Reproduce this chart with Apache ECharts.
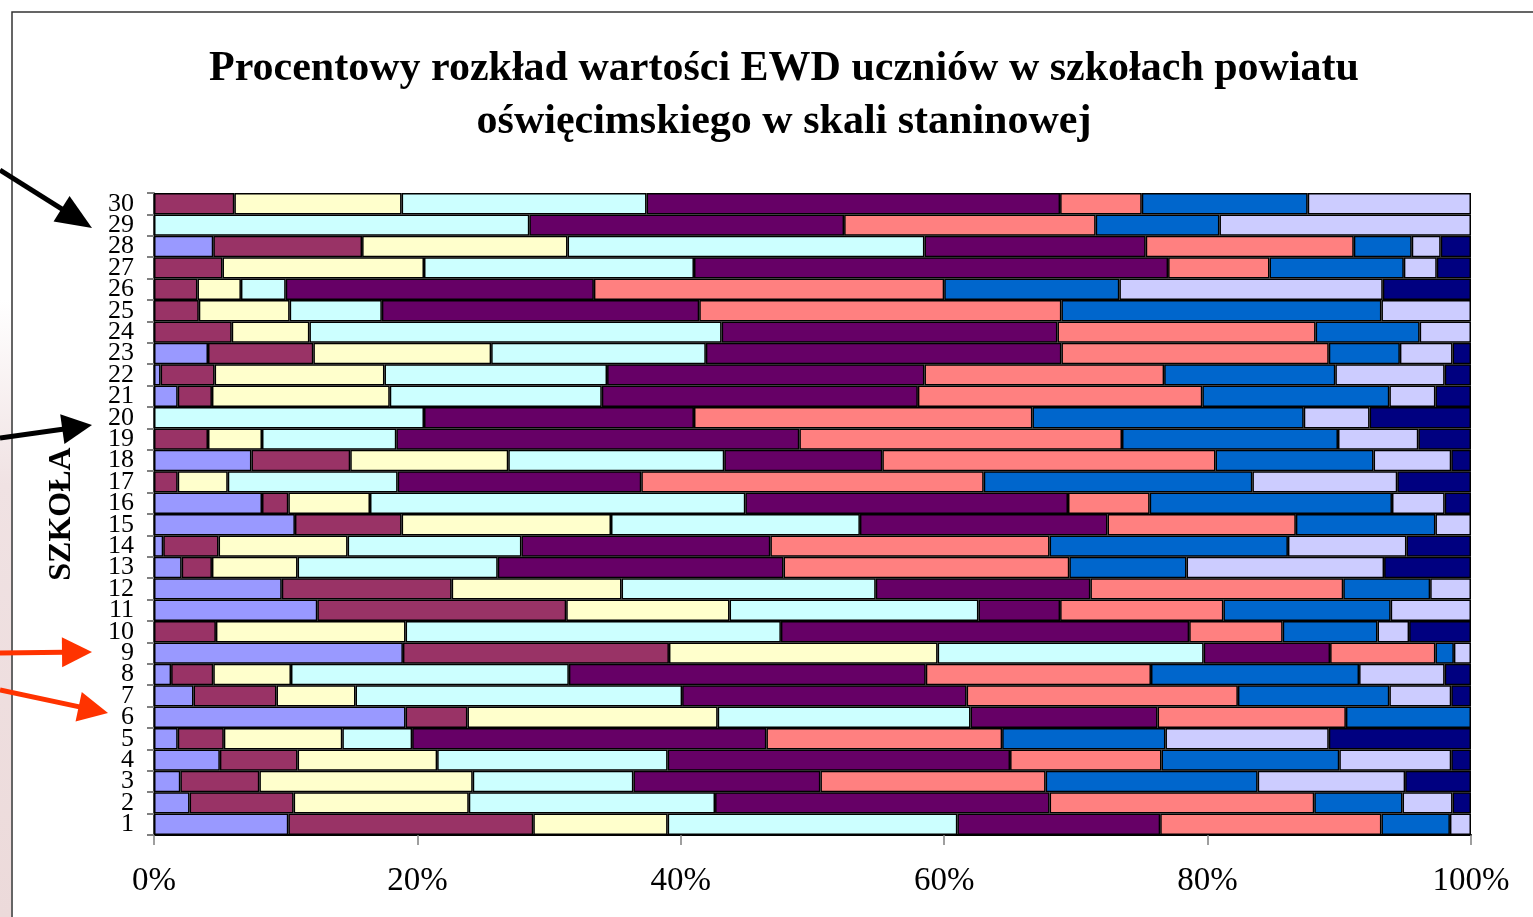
<!DOCTYPE html>
<html>
<head>
<meta charset="utf-8">
<script src="https://cdn.jsdelivr.net/npm/echarts@6/dist/echarts.min.js"></script>
<style>
html,body{margin:0;padding:0;background:#fff;}
#chart{width:1533px;height:917px;}
</style>
</head>
<body>
<div id="chart"></div>
<script>
// Schools (category axis, bottom to top)
const schools = ['1','2','3','4','5','6','7','8','9','10','11','12','13','14','15','16','17','18','19','20','21','22','23','24','25','26','27','28','29','30'];

// Percent of pupils in each stanine (1..9) per school 1..30
const stanine1 = [10.2,2.7,2.0,5.0,1.8,19.1,3.0,1.3,18.9,0,12.4,9.7,2.1,0.7,10.7,8.2,0,7.4,0,0,1.8,0.5,4.1,0,0,0,0,4.5,0,0];
const stanine2 = [18.6,7.9,6.0,5.9,3.5,4.7,6.3,3.2,20.2,4.7,18.9,12.9,2.3,4.2,8.1,2.0,1.8,7.5,4.1,0,2.6,4.1,8.0,5.9,3.4,3.3,5.2,11.3,0,6.1];
const stanine3 = [10.2,13.3,16.2,10.6,9.0,19.0,6.0,5.9,20.4,14.4,12.4,12.9,6.5,9.8,15.9,6.2,3.8,12.0,4.1,0,13.5,12.9,13.5,5.9,6.9,3.3,15.3,15.6,0,12.7];
const stanine4 = [22.0,18.7,12.2,17.5,5.3,19.2,24.8,21.1,20.2,28.5,18.9,19.3,15.2,13.2,18.9,28.5,12.9,16.4,10.2,20.5,16.1,16.9,16.3,31.3,7.0,3.4,20.5,27.1,28.5,18.6];
const stanine5 = [15.4,25.4,14.2,26.0,26.9,14.2,21.6,27.1,9.6,31.0,6.2,16.3,21.7,18.9,18.8,24.5,18.5,12.0,30.6,20.5,24.0,24.1,27.0,25.5,24.1,23.4,36.0,16.8,23.9,31.4];
const stanine6 = [16.8,20.1,17.1,11.5,17.9,14.3,20.6,17.1,8.0,7.1,12.4,19.2,21.7,21.2,14.3,6.2,26.0,25.3,24.5,25.7,21.6,18.2,20.3,19.6,27.5,26.6,7.7,15.8,19.1,6.2];
const stanine7 = [5.2,6.7,16.1,13.5,12.4,9.5,11.5,15.8,1.4,7.2,12.7,6.6,8.9,18.1,10.6,18.4,20.4,12.0,16.4,20.6,14.2,13.0,5.4,7.9,24.3,13.3,10.2,4.4,9.4,12.6];
const stanine8 = [1.6,3.8,11.2,8.5,12.4,0,4.7,6.5,1.3,2.4,6.1,3.1,15.0,9.0,2.7,4.0,11.0,5.9,6.1,5.0,3.5,8.3,4.0,3.9,6.8,20.0,2.5,2.2,19.1,12.4];
const stanine9 = [0,1.4,5.0,1.5,10.8,0,1.5,2.0,0,4.7,0,0,6.6,4.9,0,2.0,5.6,1.5,4.0,7.7,2.7,2.0,1.4,0,0,6.7,2.6,2.3,0,0];

const stanineNames = ['1','2','3','4','5','6','7','8','9'];
const stanineData = [stanine1,stanine2,stanine3,stanine4,stanine5,stanine6,stanine7,stanine8,stanine9];
const stanineColors = ['#9999FF','#993366','#FFFFCC','#CCFFFF','#660066','#FF8080','#0066CC','#CCCCFF','#000080'];

const xTicks = [0,20,40,60,80,100];

const serif = '"Liberation Serif","Times New Roman",serif';

const chart = echarts.init(document.getElementById('chart'), null, {renderer:'canvas'});

// arrow decorations (outside the plot)
function arrow(x0,y0,x1,y1,color,w,headLen,headW){
  const dx=x1-x0, dy=y1-y0, L=Math.sqrt(dx*dx+dy*dy), ux=dx/L, uy=dy/L;
  const bx=x1-ux*headLen, by=y1-uy*headLen;
  const px=-uy, py=ux;
  return [
    {type:'line', shape:{x1:x0,y1:y0,x2:bx+ux*2,y2:by+uy*2}, style:{stroke:color,lineWidth:w}, z:10},
    {type:'polygon', shape:{points:[[x1,y1],[bx+px*headW/2,by+py*headW/2],[bx-px*headW/2,by-py*headW/2]]}, style:{fill:color}, z:10}
  ];
}

const graphics = [
  {type:'rect', shape:{x:0,y:300,width:11,height:617}, style:{fill:new echarts.graphic.LinearGradient(0,0,0,1,[{offset:0,color:'#ffffff'},{offset:0.3,color:'#f0e2e3'},{offset:1,color:'#ecdada'}])}, z:0},
  {type:'rect', shape:{x:12,y:12,width:1560,height:960}, style:{fill:null,stroke:'#333',lineWidth:1.5}, z:1}
].concat(
  arrow(0,170,92,228,'#000',5,36,30),
  arrow(0,438,92,425,'#000',5,30,30),
  arrow(0,653,92,652,'#FF3300',5,30,30),
  arrow(0,690,108,713,'#FF3300',5,30,30)
);

const option = {
  backgroundColor:'#fff',
  animation:false,
  title:{
    text:'Procentowy rozkład wartości EWD uczniów w szkołach powiatu\noświęcimskiego w skali staninowej',
    left:784,
    top:43,
    padding:0,
    textAlign:'center',
    textStyle:{fontFamily:serif,fontWeight:'bold',fontSize:42,lineHeight:53,color:'#000'}
  },
  grid:{left:154,right:62,top:193,bottom:82,containLabel:false},
  xAxis:{
    type:'value',min:0,max:100,interval:20,
    axisLine:{show:true,lineStyle:{color:'#000',width:2}},
    axisTick:{show:true,length:10,lineStyle:{color:'#808080',width:1.5}},
    splitLine:{show:false},
    axisLabel:{formatter:function(v){return xTicks.indexOf(v)>=0? v+'%':'';},fontFamily:serif,fontSize:33,color:'#000',margin:30}
  },
  yAxis:{
    type:'category',data:schools,
    name:'SZKOŁA',nameLocation:'middle',nameRotate:90,nameGap:76,
    nameTextStyle:{fontFamily:serif,fontWeight:'bold',fontSize:32,color:'#000'},
    axisLine:{show:true,lineStyle:{color:'#000',width:1.5}},
    axisTick:{show:true,length:7,lineStyle:{color:'#808080',width:2}},
    axisLabel:{fontFamily:serif,fontSize:26,color:'#000',margin:20,interval:0}
  },
  series: stanineData.map(function(arr,i){
    return {
      name:stanineNames[i], type:'bar', stack:'total', barCategoryGap:'0%',
      data:arr.map(function(v){return v>0? v : null;}),
      itemStyle:{color:stanineColors[i],borderColor:'#000',borderWidth:1.5},
      emphasis:{disabled:true}
    };
  }),
  graphic:graphics
};
chart.setOption(option);
</script>
</body>
</html>
